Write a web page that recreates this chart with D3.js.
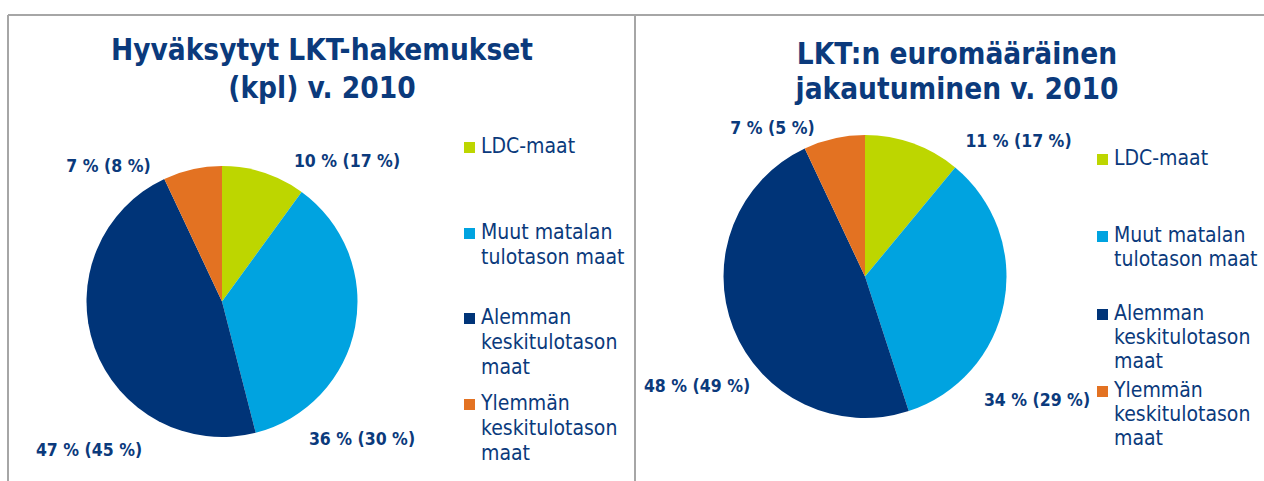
<!DOCTYPE html>
<html><head><meta charset="utf-8">
<script src="https://cdn.jsdelivr.net/npm/d3@7"></script>
<style>
html,body{margin:0;padding:0;background:#fff;}
svg{display:block;}
text{font-family:"DejaVu Sans",sans-serif;font-stretch:condensed;}
</style></head><body>
<svg id="c" width="1264" height="481"></svg>
<script>
// ---- data ----
const categories = ["LDC-maat", "Muut matalan tulotason maat", "Alemman keskitulotason maat", "Ylemmän keskitulotason maat"];
const legendLines = [["LDC-maat"], ["Muut matalan", "tulotason maat"], ["Alemman", "keskitulotason", "maat"], ["Ylemmän", "keskitulotason", "maat"]];
const colors = ["#bdd600", "#00a3e0", "#003478", "#e37222"];
const countShare2010 = [10, 36, 47, 7];
const countSharePrev = [17, 30, 45, 8];
const euroShare2010 = [11, 34, 48, 7];
const euroSharePrev = [17, 29, 49, 5];
const titles = [["Hyväksytyt LKT-hakemukset", "(kpl) v. 2010"], ["LKT:n euromääräinen", "jakautuminen v. 2010"]];

// ---- layout ----
const svg = d3.select("#c");
const navy = "#0b3a7c";
const border = "#a6a6a6";
svg.append("line").attr("x1", 8).attr("x2", 1264).attr("y1", 15).attr("y2", 15).attr("stroke", border).attr("stroke-width", 2);
svg.append("line").attr("x1", 8).attr("x2", 8).attr("y1", 15).attr("y2", 481).attr("stroke", border).attr("stroke-width", 2);
svg.append("line").attr("x1", 635).attr("x2", 635).attr("y1", 15).attr("y2", 481).attr("stroke", border).attr("stroke-width", 2);

const panels = [
  {values: countShare2010, prev: countSharePrev, title: titles[0], cx: 222, cy: 301.5, r: 135.5,
   titleX: 322, titleY: [60, 98],
   labelOff: [[125, -134.5], [140, 143], [-133, 154], [-113.5, -129.5]],
   legX: 464, legY: [153, 239, 324, 410], lineH: 25},
  {values: euroShare2010, prev: euroSharePrev, title: titles[1], cx: 865, cy: 276.5, r: 141.5,
   titleX: 957, titleY: [64, 99],
   labelOff: [[153.5, -129.5], [172, 129.5], [-168, 115.5], [-92.5, -142.5]],
   legX: 1097, legY: [165, 242, 320, 397], lineH: 24}
];

panels.forEach(p => {
  const g = svg.append("g");
  // title
  g.selectAll("text.title").data(p.title).join("text")
    .attr("x", p.titleX).attr("y", (d, i) => p.titleY[i])
    .attr("text-anchor", "middle").attr("font-size", 29.5).attr("font-weight", "bold")
    .attr("fill", navy).text(d => d);

  const pie = d3.pie().sort(null).value(d => d)(p.values);
  const arc = d3.arc().innerRadius(0).outerRadius(p.r);
  const pg = g.append("g").attr("transform", `translate(${p.cx},${p.cy})`);
  pg.selectAll("path").data(pie).join("path")
    .attr("d", arc).attr("fill", (d, i) => colors[i]);

  // labels
  pg.selectAll("text.lbl").data(pie).join("text")
    .attr("x", (d, i) => p.labelOff[i][0]).attr("y", (d, i) => p.labelOff[i][1])
    .attr("text-anchor", "middle").attr("font-size", 17.5).attr("font-weight", "bold")
    .attr("fill", navy)
    .text((d, i) => `${p.values[i]} % (${p.prev[i]} %)`);

  // legend
  const lg = g.append("g");
  categories.forEach((c, i) => {
    const by = p.legY[i];
    lg.append("rect").attr("x", p.legX).attr("y", by - 11).attr("width", 11).attr("height", 11).attr("fill", colors[i]);
    legendLines[i].forEach((ln, j) => {
      lg.append("text").attr("x", p.legX + 17).attr("y", by + j * p.lineH)
        .attr("font-size", 21).attr("fill", navy).text(ln);
    });
  });
});
</script>
</body></html>
